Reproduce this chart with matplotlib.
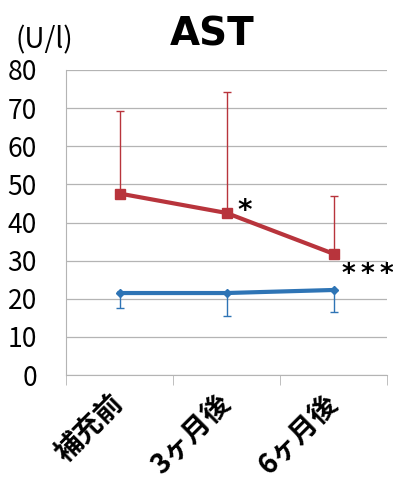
import matplotlib.pyplot as plt
import numpy as np

plt.rcParams['font.family'] = ['Noto Sans CJK JP', 'DejaVu Sans']

# data
categories = ['補充前', '3ヶ月後', '6ヶ月後']
red_mean = [47.6, 42.5, 31.8]
red_upper = [69.2, 74.2, 47.0]
blue_mean = [21.5, 21.5, 22.3]
blue_lower = [17.7, 15.5, 16.6]
marks = ['', '*', '***']

red = '#B8343C'
blue = '#2E74B5'

fig = plt.figure(figsize=(3.93, 4.87), dpi=100)
ax = fig.add_axes([66/393, 1-375/487, 321/393, 305/487])

x = np.arange(len(categories))

# error bars (one-sided)
ax.errorbar(x, red_mean, yerr=[np.zeros(3), np.array(red_upper) - np.array(red_mean)],
            fmt='none', ecolor=red, elinewidth=1, capsize=3, capthick=1, zorder=2)
ax.errorbar(x, blue_mean, yerr=[np.array(blue_mean) - np.array(blue_lower), np.zeros(3)],
            fmt='none', ecolor=blue, elinewidth=1, capsize=3, capthick=1, zorder=2)

ax.plot(x, red_mean, color=red, lw=3, marker='s', ms=7, zorder=3)
ax.plot(x, blue_mean, color=blue, lw=3, marker='D', ms=4, zorder=3)

# significance marks
ax.text(x[1] + 0.1, red_mean[1] + 0.5, marks[1], fontsize=20, ha='left', va='center',
        family='DejaVu Sans', fontweight='bold')
ax.text(x[2] + 0.08, red_mean[2] - 5.5, '\u2009'.join(marks[2]), fontsize=19, ha='left',
        va='center', family='DejaVu Sans', fontweight='bold')

ax.set_xlim(-0.5, 2.5)
ax.set_ylim(0, 80)
ax.set_yticks(range(0, 81, 10))
ax.yaxis.grid(True, color='#b4b4b4', lw=0.9)
ax.set_axisbelow(True)

ax.set_xticks(x)
ax.set_xticklabels(categories, rotation=45, ha='right', va='center', rotation_mode='anchor',
                   fontsize=20, fontweight='bold')
ax.set_xticks([-0.5, 0.5, 1.5, 2.5], minor=True)
ax.tick_params(axis='x', which='major', length=0, pad=17)
ax.tick_params(axis='x', which='minor', length=7, color='#b4b4b4', direction='out')
ax.tick_params(axis='y', length=0, labelsize=19, pad=21)

for s in ['top', 'right']:
    ax.spines[s].set_visible(False)
ax.spines['left'].set_color('#b4b4b4')
ax.spines['bottom'].set_color('#b4b4b4')

fig.text(212/393, 1-35/487, 'AST', fontsize=28, fontweight='bold', ha='center', va='center',
         family='DejaVu Sans')
fig.text(15/393, 1-40/487, '(U/l)', fontsize=20, ha='left', va='center')

fig.savefig('out.png', dpi=100)
